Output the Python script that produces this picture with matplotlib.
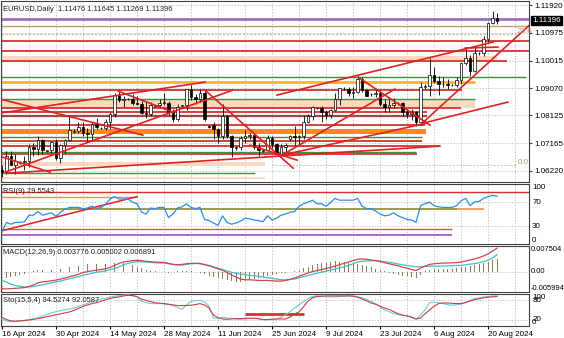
import numpy as np
import matplotlib
matplotlib.use('Agg')
import matplotlib.pyplot as plt
from matplotlib.transforms import blended_transform_factory

plt.rcParams['font.family'] = ['Liberation Sans', 'DejaVu Sans']

# ---- daily EURUSD candles (incl. short sunday bars) ----
opens = [1.0625, 1.0617, 1.0672, 1.0643, 1.0650, 1.0652, 1.0654, 1.0703, 1.0698, 1.0727,
         1.0690, 1.0692, 1.0720, 1.0666, 1.0712, 1.0727, 1.0755, 1.0760, 1.0771, 1.0752,
         1.0748, 1.0782, 1.0768, 1.0770, 1.0789, 1.0817, 1.0882, 1.0866, 1.0868, 1.0870,
         1.0856, 1.0853, 1.0821, 1.0818, 1.0845, 1.0847, 1.0857, 1.0857, 1.0826, 1.0800,
         1.0846, 1.0848, 1.0902, 1.0875, 1.0868, 1.0891, 1.0775, 1.0780, 1.0765, 1.0740,
         1.0810, 1.0740, 1.0700, 1.0702, 1.0733, 1.0741, 1.0744, 1.0702, 1.0690, 1.0692,
         1.0734, 1.0715, 1.0681, 1.0703, 1.0730, 1.0740, 1.0739, 1.0741, 1.0790, 1.0811,
         1.0838, 1.0839, 1.0825, 1.0813, 1.0830, 1.0868, 1.0905, 1.0903, 1.0890, 1.0894,
         1.0939, 1.0899, 1.0885, 1.0886, 1.0890, 1.0853, 1.0843, 1.0848, 1.0855, 1.0857,
         1.0823, 1.0816, 1.0825, 1.0790, 1.0912, 1.0915, 1.0953, 1.0930, 1.0922, 1.0920,
         1.0918, 1.0919, 1.0933, 1.0992, 1.1012, 1.0966, 1.1028, 1.1029, 1.1077, 1.1130,
         1.11476]
highs = [1.0640, 1.0690, 1.0690, 1.0679, 1.0656, 1.0672, 1.0714, 1.0716, 1.0740, 1.0731,
         1.0695, 1.0725, 1.0732, 1.0714, 1.0730, 1.0812, 1.0765, 1.0790, 1.0790, 1.0768,
         1.0790, 1.0803, 1.0774, 1.0801, 1.0826, 1.0889, 1.0895, 1.0881, 1.0873, 1.0886,
         1.0878, 1.0861, 1.0858, 1.0858, 1.0850, 1.0868, 1.0889, 1.0861, 1.0835, 1.0852,
         1.0850, 1.0903, 1.0916, 1.0887, 1.0902, 1.0901, 1.0780, 1.0790, 1.0768, 1.0852,
         1.0815, 1.0744, 1.0706, 1.0740, 1.0761, 1.0752, 1.0747, 1.0716, 1.0696, 1.0744,
         1.0741, 1.0717, 1.0715, 1.0718, 1.0745, 1.0776, 1.0746, 1.0815, 1.0816, 1.0844,
         1.0842, 1.0846, 1.0832, 1.0834, 1.0891, 1.0907, 1.0909, 1.0911, 1.0909, 1.0948,
         1.0944, 1.0905, 1.0890, 1.0906, 1.0896, 1.0868, 1.0869, 1.0871, 1.0860, 1.0858,
         1.0835, 1.0834, 1.0829, 1.0927, 1.0920, 1.1009, 1.0981, 1.0948, 1.0946, 1.0937,
         1.0922, 1.0946, 1.0993, 1.1047, 1.1020, 1.1048, 1.1032, 1.1086, 1.1134, 1.1174,
         1.11645]
lows = [1.0601, 1.0612, 1.0643, 1.0611, 1.0645, 1.0624, 1.0634, 1.0672, 1.0677, 1.0680,
        1.0685, 1.0683, 1.0660, 1.0650, 1.0683, 1.0725, 1.0752, 1.0752, 1.0742, 1.0723,
        1.0729, 1.0765, 1.0764, 1.0763, 1.0766, 1.0807, 1.0860, 1.0841, 1.0864, 1.0849,
        1.0847, 1.0817, 1.0805, 1.0811, 1.0842, 1.0842, 1.0850, 1.0815, 1.0790, 1.0795,
        1.0842, 1.0832, 1.0865, 1.0851, 1.0858, 1.0793, 1.0768, 1.0731, 1.0718, 1.0732,
        1.0733, 1.0668, 1.0695, 1.0694, 1.0717, 1.0730, 1.0697, 1.0671, 1.0686, 1.0692,
        1.0696, 1.0676, 1.0680, 1.0677, 1.0725, 1.0711, 1.0709, 1.0731, 1.0788, 1.0798,
        1.0834, 1.0791, 1.0799, 1.0802, 1.0829, 1.0848, 1.0900, 1.0881, 1.0872, 1.0890,
        1.0893, 1.0880, 1.0880, 1.0876, 1.0845, 1.0825, 1.0825, 1.0837, 1.0850, 1.0809,
        1.0802, 1.0796, 1.0777, 1.0779, 1.0905, 1.0880, 1.0925, 1.0883, 1.0910, 1.0905,
        1.0914, 1.0909, 1.0922, 1.0985, 1.0947, 1.0961, 1.1022, 1.1017, 1.1066, 1.1127,
        1.11269]
closes = [1.0617, 1.0672, 1.0643, 1.0656, 1.0652, 1.0654, 1.0703, 1.0698, 1.0727, 1.0693,
          1.0692, 1.0720, 1.0666, 1.0712, 1.0727, 1.0761, 1.0760, 1.0771, 1.0752, 1.0748,
          1.0782, 1.0771, 1.0770, 1.0789, 1.0817, 1.0882, 1.0866, 1.0869, 1.0870, 1.0856,
          1.0853, 1.0821, 1.0818, 1.0848, 1.0847, 1.0857, 1.0858, 1.0826, 1.0800, 1.0840,
          1.0848, 1.0902, 1.0875, 1.0868, 1.0891, 1.0801, 1.0774, 1.0765, 1.0740, 1.0810,
          1.0740, 1.0704, 1.0702, 1.0733, 1.0741, 1.0744, 1.0702, 1.0693, 1.0692, 1.0734,
          1.0715, 1.0681, 1.0703, 1.0712, 1.0740, 1.0739, 1.0741, 1.0790, 1.0811, 1.0840,
          1.0839, 1.0825, 1.0813, 1.0830, 1.0868, 1.0907, 1.0903, 1.0890, 1.0894, 1.0939,
          1.0899, 1.0881, 1.0886, 1.0890, 1.0853, 1.0843, 1.0848, 1.0856, 1.0857, 1.0823,
          1.0816, 1.0825, 1.0790, 1.0909, 1.0915, 1.0953, 1.0930, 1.0922, 1.0920, 1.0916,
          1.0919, 1.0933, 1.0992, 1.1012, 1.0966, 1.1027, 1.1029, 1.1077, 1.1130, 1.1148,
          1.11396]

# ---- indicators ----
rsi = [21, 36, 33, 36, 36, 37, 48, 48, 54, 48, 50, 52, 46, 53, 58, 61, 61, 61, 59, 60,
       63, 59, 61, 66, 75, 79, 75, 75, 75, 70, 67, 53, 50, 60, 59, 61, 61, 44, 50, 60,
       62, 67, 61, 59, 61, 41, 39, 35, 31, 47, 36, 33, 35, 38, 43, 42, 40, 39, 37, 47,
       40, 43, 48, 50, 53, 54, 63, 67, 70, 73, 67, 67, 63, 69, 76, 73, 73, 73, 73, 76,
       63, 59, 59, 55, 50, 47, 48, 52, 47, 44, 41, 40, 36, 64, 67, 70, 64, 62, 61, 61,
       61, 64, 72, 76, 64, 70, 71, 76, 79, 81, 79.55]

macd_main = [-0.0050, -0.0051, -0.0050, -0.0049, -0.0048, -0.0047, -0.0044, -0.0039, -0.0033, -0.0030,
             -0.0029, -0.0027, -0.0025, -0.0022, -0.0019, -0.0015, -0.0012, -0.0008, -0.0003, 0.0000,
             0.0002, 0.0004, 0.0006, 0.0008, 0.0012, 0.0018, 0.0024, 0.0028, 0.0030, 0.0032,
             0.0033, 0.0032, 0.0030, 0.0029, 0.0028, 0.0027, 0.0027, 0.0024, 0.0021, 0.0020,
             0.0021, 0.0023, 0.0024, 0.0024, 0.0024, 0.0020, 0.0017, 0.0013, 0.0008, 0.0004,
             -0.0003, -0.0010, -0.0016, -0.0022, -0.0024, -0.0024, -0.0025, -0.0026, -0.0026, -0.0026,
             -0.0027, -0.0028, -0.0028, -0.0026, -0.0023, -0.0019, -0.0014, -0.0009, -0.0004, 0.0000,
             0.0003, 0.0006, 0.0009, 0.0012, 0.0016, 0.0020, 0.0024, 0.0028, 0.0032, 0.0036,
             0.0037, 0.0036, 0.0034, 0.0032, 0.0030, 0.0026, 0.0023, 0.0020, 0.0017, 0.0013,
             0.0010, 0.0006, 0.0003, 0.0010, 0.0016, 0.0021, 0.0023, 0.0024, 0.0025, 0.0025,
             0.0026, 0.0026, 0.0028, 0.0031, 0.0034, 0.0037, 0.0041, 0.0046, 0.0052, 0.0060,
             0.006891]
macd_signal = [-0.0026, -0.0031, -0.0037, -0.0041, -0.0043, -0.0045, -0.0045, -0.0044, -0.0041, -0.0039,
               -0.0036, -0.0033, -0.0030, -0.0028, -0.0024, -0.0021, -0.0018, -0.0015, -0.0011, -0.0008,
               -0.0005, -0.0002, 0.0000, 0.0002, 0.0005, 0.0009, 0.0014, 0.0020, 0.0024, 0.0027,
               0.0029, 0.0029, 0.0028, 0.0027, 0.0026, 0.0025, 0.0025, 0.0023, 0.0021, 0.0019,
               0.0019, 0.0021, 0.0023, 0.0024, 0.0023, 0.0021, 0.0018, 0.0014, 0.0010, 0.0006,
               0.0002, -0.0002, -0.0005, -0.0007, -0.0009, -0.0011, -0.0012, -0.0014, -0.0016, -0.0018,
               -0.0020, -0.0022, -0.0024, -0.0024, -0.0023, -0.0022, -0.0019, -0.0015, -0.0011, -0.0008,
               -0.0005, -0.0002, 0.0001, 0.0004, 0.0008, 0.0011, 0.0014, 0.0018, 0.0023, 0.0028,
               0.0030, 0.0031, 0.0032, 0.0032, 0.0031, 0.0029, 0.0027, 0.0025, 0.0022, 0.0020,
               0.0018, 0.0016, 0.0014, 0.0014, 0.0015, 0.0016, 0.0016, 0.0016, 0.0016, 0.0017,
               0.0017, 0.0018, 0.0018, 0.0020, 0.0022, 0.0023, 0.0026, 0.0029, 0.0033, 0.0040,
               0.005002]
macd_hist = [-0.0021, -0.0019, -0.0017, -0.0014, -0.0010, -0.0006, -0.0001, 0.0003, 0.0005, 0.0006,
             0.0005, 0.0006, 0.0008, 0.0008, 0.0009, 0.0012, 0.0014, 0.0016, 0.0019, 0.0021,
             0.0022, 0.0021, 0.0023, 0.0022, 0.0024, 0.0026, 0.0027, 0.0025, 0.0022, 0.0019,
             0.0014, 0.0010, 0.0006, 0.0003, 0.0001, 0.0000, -0.0002, -0.0003, -0.0002, 0.0001,
             0.0002, 0.0001, 0.0002, -0.0001, -0.0003, -0.0008, -0.0012, -0.0016, -0.0019, -0.0022,
             -0.0025, -0.0028, -0.0030, -0.0031, -0.0029, -0.0026, -0.0022, -0.0018, -0.0015, -0.0012,
             -0.0010, -0.0008, -0.0005, -0.0003, -0.0001, 0.0002, 0.0006, 0.0010, 0.0014, 0.0018,
             0.0021, 0.0024, 0.0026, 0.0028, 0.0030, 0.0029, 0.0028, 0.0026, 0.0025, 0.0023,
             0.0020, 0.0016, 0.0012, 0.0008, 0.0004, 0.0001, -0.0003, -0.0006, -0.0009, -0.0012,
             -0.0014, -0.0016, -0.0018, -0.0009, 0.0002, 0.0006, 0.0007, 0.0008, 0.0008, 0.0009,
             0.0008, 0.0010, 0.0012, 0.0014, 0.0015, 0.0018, 0.0021, 0.0025, 0.0029, 0.0033,
             0.003776]

sto_k = [21, 16, 13, 14, 16, 18, 20, 22, 26, 31, 36, 41, 45, 48, 51, 53, 56, 61, 66, 71,
         76, 80, 84, 87, 90, 93, 95, 96, 97, 95, 91, 78, 73, 70, 70, 70, 69, 67, 64, 58,
         52, 66, 77, 79, 80, 75, 62, 25, 24, 27, 25, 24, 22, 21, 22, 23, 24, 22, 20, 20,
         21, 22, 27, 35, 45, 56, 66, 76, 86, 92, 95, 93, 91, 91, 91, 92, 93, 95, 94, 92,
         88, 83, 77, 70, 60, 50, 45, 39, 36, 34, 32, 27, 21, 35, 50, 72, 75, 72, 70, 67,
         65, 66, 69, 74, 80, 86, 88, 91, 92, 94, 94.53]
sto_d = [27, 20, 16, 15, 16, 17, 19, 21, 23, 26, 29, 32, 35, 38, 41, 44, 49, 55, 61, 66,
         70, 73, 77, 82, 86, 89, 91, 94, 96, 95, 92, 84, 80, 76, 73, 71, 70, 68, 66, 64,
         64, 64, 65, 67, 70, 66, 56, 34, 26, 22, 21, 22, 23, 23, 24, 24, 24, 23, 20, 20,
         21, 22, 22, 22, 28, 38, 44, 60, 78, 88, 92, 93, 94, 94, 94, 94, 94, 94, 93, 90,
         85, 79, 72, 68, 62, 56, 52, 45, 38, 34, 31, 28, 22, 25, 38, 50, 62, 70, 72, 72,
         71, 70, 70, 73, 78, 82, 85, 88, 90, 91, 92.06]

date_labels = ['16 Apr 2024', '30 Apr 2024', '14 May 2024', '28 May 2024', '11 Jun 2024',
               '25 Jun 2024', '9 Jul 2024', '23 Jul 2024', '6 Aug 2024', '20 Aug 2024']
date_bars = [0, 12, 24, 36, 48, 60, 72, 84, 96, 108]
price_ticks = [1.11920, 1.10975, 1.10015, 1.09070, 1.08125, 1.07165, 1.06220]

# ---- drawn objects: horizontal levels (price, last bar) ----
red_levels = [1.1069, 1.1034, 1.1000, 1.0900, 1.0838, 1.0824, 1.0779, 1.0724, 1.0707, 1.0679]
red_ends = [118, 118, 112.2, 102.2, 102, 94.4, 94, 93.3, 97.3, 92.2]
green_levels = [1.0945, 1.0869, 1.0738, 1.0686, 1.0613]
green_ends = [116.4, 105.1, 93.3, 92, 56.2]
peach_bands = [(1.1003, 1.1017, 110), (1.0838, 1.0865, 105.1), (1.0637, 1.0651, 58.4), (1.0593, 1.0600, 58.4)]

# trend lines: (bar0, price0, bar1, price1)
trend_lines = [(-0.4, 1.08688, 31.3, 1.07446), (-0.4, 1.08205, 45.1, 1.09274),
               (0.7, 1.06169, 51.3, 1.08998), (25.8, 1.08964, 38.0, 1.08239),
               (45.1, 1.08998, 64.7, 1.06307), (1.1, 1.06135, 97.3, 1.07066),
               (62.2, 1.06755, 94.4, 1.07860), (61.1, 1.08826, 109.1, 1.10654),
               (79.1, 1.09446, 95.1, 1.07791), (62.2, 1.06755, 87.3, 1.09033),
               (92.9, 1.07791, 118.0, 1.11350), (93.6, 1.07860, 112.4, 1.08584),
               (102.9, 1.10447, 110.2, 1.10482), (0.2, 1.06686, 10.7, 1.06169),
               (55.1, 1.07101, 65.6, 1.06583)]

W, H = 564, 338
fig = plt.figure(figsize=(W / 100, H / 100), dpi=100)


def rect(x0, y0, x1, y1):
    return [x0 / W, 1 - y1 / H, (x1 - x0) / W, (y1 - y0) / H]


ax = fig.add_axes(rect(1, 1, 529, 182))
ax_rsi = fig.add_axes(rect(1, 184, 529, 244))
ax_macd = fig.add_axes(rect(1, 246, 529, 292))
ax_sto = fig.add_axes(rect(1, 294, 529, 326))
axes = [ax, ax_rsi, ax_macd, ax_sto]

n = len(closes)
x = np.arange(n)
xlim = (-0.22, 117.1)
fs = 5.8
grid_kw = dict(color='#b8b8b8', lw=0.6, ls=(0, (1.5, 2)), zorder=0)

for a in axes:
    a.set_xlim(*xlim)
    for s in a.spines.values():
        s.set_color('#404040')
        s.set_linewidth(0.8)
    a.tick_params(axis='x', length=0, labelbottom=False)
    for gx in range(0, 118, 6):
        a.axvline(gx, **grid_kw)

# ---- main price panel ----
ax.set_ylim(1.0583, 1.1207)
for p in price_ticks:
    ax.axhline(p, **grid_kw)

for lo, hi, end in peach_bands:
    ax.fill_between([xlim[0], end], lo, hi, color='#fcd9bd', lw=0, zorder=1)

ax.hlines(1.1145, xlim[0], 118, color='#9a6fc8', lw=2.0, zorder=2)
ax.hlines(1.1121, xlim[0], 118, color='#c89a70', lw=1.0, zorder=2)
ax.hlines(1.1093, xlim[0], 114.5, color='#c8b09a', lw=0.8, ls=(0, (2, 1.5)), zorder=2)
ax.hlines(1.0641, 60, 114.5, color='#d8c0a8', lw=0.7, ls=(0, (2, 1.5)), zorder=2)
ax.hlines(1.0927, xlim[0], 105.1, color='#f2b43c', lw=2.0, zorder=2)
ax.hlines(1.0810, xlim[0], 94.4, color='#a04848', lw=1.6, zorder=2)
ax.fill_between([xlim[0], 94.2], 1.0750, 1.0765, color='#ff8c1a', lw=0, zorder=2)
for p, e in zip(red_levels, red_ends):
    ax.hlines(p, xlim[0], e, color='#d83030', lw=1.3, zorder=2)
for p, e in zip(green_levels, green_ends):
    ax.hlines(p, xlim[0], e, color='#3f8f3f', lw=1.0, zorder=2)

o = np.array(opens)
c = np.array(closes)
ax.vlines(x, lows, highs, color='black', lw=0.6, zorder=3)
body_col = ['white' if cc >= oo else 'black' for oo, cc in zip(o, c)]
ax.bar(x, c - o, bottom=o, width=0.62, color=body_col, edgecolor='black', lw=0.5, zorder=4)

for b0, p0, b1, p1 in trend_lines:
    ax.plot([b0, b1], [p0, p1], color='#dd2222', lw=1.2, zorder=5)

ax.yaxis.tick_right()
ax.set_yticks(price_ticks)
ax.set_yticklabels([f'{p:.5f}' for p in price_ticks], fontsize=fs)
ax.tick_params(axis='y', length=2, pad=2, color='#404040')

ax.text(0.004, 0.955, 'EURUSD,Daily  1.11476 1.11645 1.11269 1.11396', transform=ax.transAxes,
        fontsize=5.4, color='#202020', va='center', ha='left', zorder=6)
ax.text(114.3, 1.1101, '23.6', fontsize=fs, color='#b09a84', va='center', zorder=6)
ax.text(114.6, 1.0650, '0.0', fontsize=fs, color='#b09a84', va='center', zorder=6)
tr = blended_transform_factory(ax.transAxes, ax.transData)
ax.text(1.006, closes[-1], f'{closes[-1]:.5f}', transform=tr, fontsize=fs, color='white',
        va='center', ha='left', clip_on=False,
        bbox=dict(boxstyle='square,pad=0.15', fc='black', ec='black'), zorder=7)

# ---- RSI panel ----
ax_rsi.set_ylim(0, 100)
ax_rsi.set_yticks([])
for lv in (70, 30):
    ax_rsi.axhline(lv, **grid_kw)
ax_rsi.axhline(86, color='#d83030', lw=1.0, zorder=2)
ax_rsi.hlines(79, xlim[0], 30, color='#e8904a', lw=1.0, zorder=2)
ax_rsi.hlines(58, xlim[0], 101, color='#8a8a30', lw=1.2, zorder=2)
ax_rsi.hlines(58, 101, 107, color='#f0904a', lw=1.2, zorder=2)
ax_rsi.hlines(25, xlim[0], 100, color='#b07050', lw=1.0, zorder=2)
ax_rsi.hlines(15, xlim[0], 100, color='#a050c8', lw=1.2, zorder=2)
ax_rsi.plot([0, 30], [22, 79], color='#dd2222', lw=1.1, zorder=3)
ax_rsi.plot(x, rsi, color='#2a8ee8', lw=0.9, zorder=4)
ax_rsi.text(0.004, 0.94, 'RSI(9) 79.5543', transform=ax_rsi.transAxes, fontsize=5.4,
            color='#202020', va='top', zorder=6)
tr = ax_rsi.get_yaxis_transform()
for lv, lab, va in [(100, '100', 'top'), (70, '70', 'center'), (30, '30', 'center'), (0, '0', 'bottom')]:
    ax_rsi.text(1.006, lv, lab, transform=tr, fontsize=fs, va=va, ha='left', clip_on=False)

# ---- MACD panel ----
ax_macd.set_ylim(-0.005994, 0.007504)
ax_macd.set_yticks([])
ax_macd.axhline(0, **grid_kw)
ax_macd.bar(x, macd_hist, width=0.22, color='#8d7d5e', zorder=2)
ax_macd.plot(x, macd_signal, color='#3fbfd0', lw=0.9, zorder=3)
ax_macd.plot(x, macd_main, color='#d04848', lw=0.9, zorder=4)
ax_macd.text(0.004, 0.93, 'MACD(12,26,9) 0.003776 0.005002 0.006891', transform=ax_macd.transAxes,
             fontsize=5.4, color='#202020', va='top', zorder=6)
tr = ax_macd.get_yaxis_transform()
for lv, lab, va in [(0.007504, '0.007504', 'top'), (0, '0.00', 'center'), (-0.005994, '-0.005994', 'bottom')]:
    ax_macd.text(1.004, lv, lab, transform=tr, fontsize=5.4, va=va, ha='left', clip_on=False)

# ---- Stochastic panel ----
ax_sto.set_ylim(0, 100)
ax_sto.set_yticks([])
for lv in (80, 20):
    ax_sto.axhline(lv, **grid_kw)
ax_sto.hlines(38, 54, 67, color='#d83030', lw=2.0, zorder=2)
ax_sto.plot(x, sto_k, color='#6ccfdc', lw=0.8, zorder=3)
ax_sto.plot(x, sto_d, color='#c84040', lw=0.8, zorder=4)
ax_sto.text(0.004, 0.9, 'Sto(15,5,4) 94.5274 92.0587', transform=ax_sto.transAxes, fontsize=5.4,
            color='#202020', va='top', zorder=6)
tr = ax_sto.get_yaxis_transform()
for lv, lab, va in [(100, '100', 'top'), (80, '80', 'center'), (20, '20', 'center'), (0, '0', 'bottom')]:
    ax_sto.text(1.006, lv, lab, transform=tr, fontsize=fs, va=va, ha='left', clip_on=False)

ax_sto.set_xticks(date_bars)
ax_sto.set_xticklabels(date_labels, fontsize=fs)
ax_sto.tick_params(axis='x', labelbottom=True, length=2, pad=1.5)
for lab in ax_sto.get_xticklabels():
    lab.set_horizontalalignment('left')

fig.savefig('out.png', dpi=100)
